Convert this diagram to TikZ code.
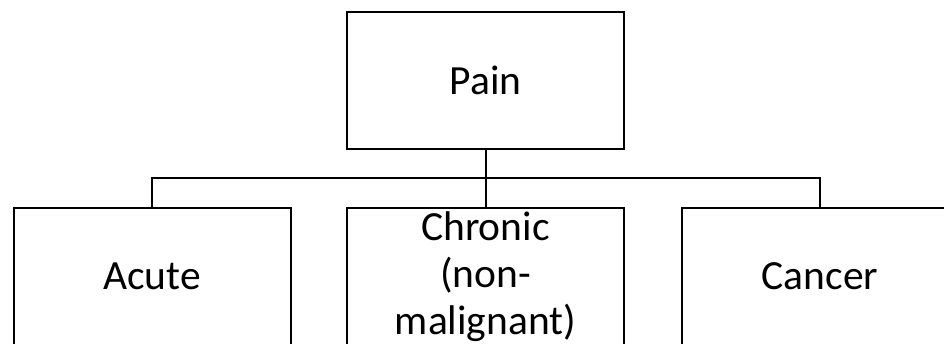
\documentclass[tikz,border=0pt]{standalone}
\usepackage{fontspec}
\setmainfont{Carlito}
\usepackage{tikz}
\usetikzlibrary{positioning, calc}
\tikzstyle{painBox}=[draw=black, line width=2pt, minimum width=277pt,
  minimum height=137pt, inner sep=0pt, align=center,
  font=\fontsize{41.5}{47}\selectfont]
\tikzstyle{link}=[draw=black, line width=2pt]

\begin{document}
\begin{tikzpicture}[x=1pt, y=-1pt]
      \useasboundingbox (0,0) rectangle (944,343);
      \clip (0,0) rectangle (944,343);
      \node[painBox] (pain) at (485.5,80.5) {Pain};
      \node[painBox] (acute) at (152,276.5) {Acute};
      \node[painBox] (chronic) at (485.5,276.5) {Chronic\\(non-\\malignant)};
      \node[painBox] (cancer) at (820,276.5) {Cancer};
      \coordinate (bus) at (485.5,178);

      \draw[link] (pain.south) -- (bus);
      \draw[link] (bus) -- (chronic.north);
      \draw[link] (acute.north) |- (bus) -| (cancer.north);
    \end{tikzpicture}
\end{document}
